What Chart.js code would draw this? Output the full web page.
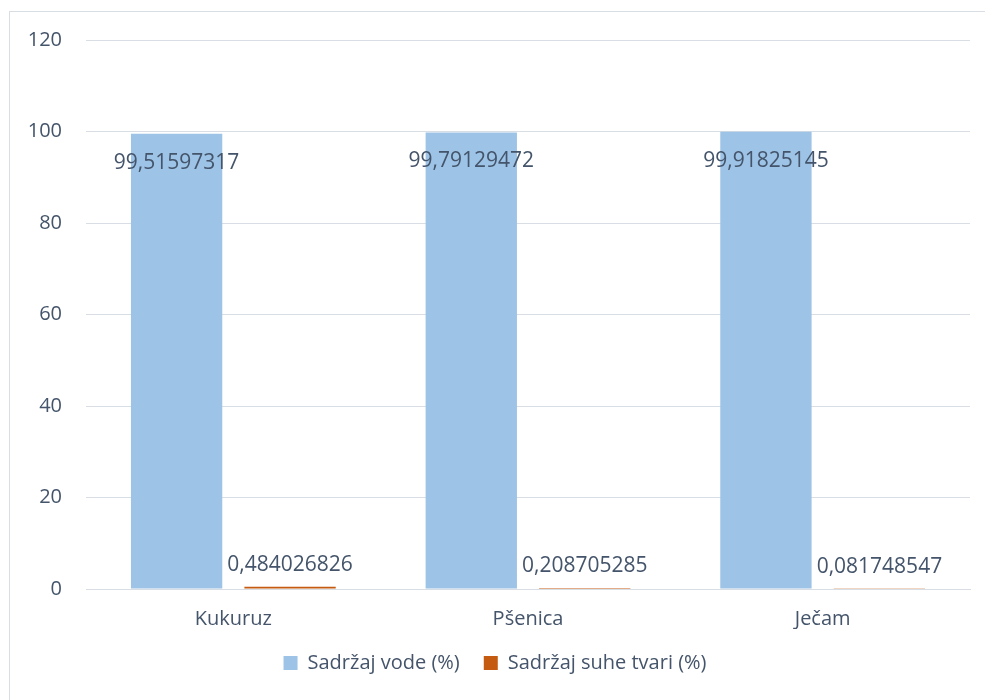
<!DOCTYPE html>
<html>
<head>
<meta charset="utf-8">
<script src="https://cdn.jsdelivr.net/npm/chart.js@4"></script>
<style>
  html, body { margin: 0; padding: 0; background: #fff; }
  #wrap { position: relative; width: 985px; height: 700px; overflow: hidden; }
  #frame { position: absolute; left: 9px; top: 11px; width: 1000px; height: 720px; border: 1px solid #D9DEE5; }
  canvas { position: absolute; left: 0; top: 0; }
</style>
</head>
<body>
<div id="wrap">
  <div id="frame"></div>
  <canvas id="chart" width="985" height="700"></canvas>
</div>
<script>
// categories and series
const categories = ['Kukuruz', 'Pšenica', 'Ječam'];
const waterValues = [99.51597317, 99.79129472, 99.91825145];
const dryValues = [0.484026826, 0.208705285, 0.081748547];
const seriesNames = ['Sadržaj vode (%)', 'Sadržaj suhe tvari (%)'];

const textColor = '#44546A';
const fontFamily = "'Open Sans', 'Liberation Sans', sans-serif";

// simple value labels, comma as decimal separator
const valueLabels = {
  id: 'valueLabels',
  afterDatasetsDraw(chart) {
    const ctx = chart.ctx;
    ctx.save();
    ctx.font = '21px ' + fontFamily;
    ctx.fillStyle = textColor;
    ctx.textAlign = 'center';
    ctx.textBaseline = 'middle';
    chart.data.datasets.forEach((ds, i) => {
      const meta = chart.getDatasetMeta(i);
      meta.data.forEach((bar, j) => {
        const txt = String(ds.data[j]).replace('.', ',');
        const y = i === 0 ? bar.y + 29 : bar.y - 22;
        ctx.fillText(txt, bar.x, y);
      });
    });
    ctx.restore();
  }
};

new Chart(document.getElementById('chart'), {
  type: 'bar',
  data: {
    labels: categories,
    datasets: [
      { label: seriesNames[0], data: waterValues, backgroundColor: '#9DC3E6' },
      { label: seriesNames[1], data: dryValues, backgroundColor: '#C55A11' }
    ]
  },
  options: {
    responsive: false,
    animation: false,
    categoryPercentage: 0.77,
    barPercentage: 0.805,
    layout: { padding: { left: 20, right: 15, top: 40, bottom: 17 } },
    plugins: {
      tooltip: { enabled: false },
      legend: {
        position: 'bottom',
        labels: {
          color: textColor,
          font: { family: fontFamily, size: 20 },
          boxWidth: 14,
          boxHeight: 14,
          padding: 24
        }
      }
    },
    scales: {
      x: {
        grid: { display: false, drawTicks: false },
        border: { color: '#D9DEE5', width: 1 },
        ticks: { color: textColor, font: { family: fontFamily, size: 20 }, padding: 18 },
        afterFit(scale) { scale.height = 40; }
      },
      y: {
        min: 0,
        max: 120,
        ticks: { stepSize: 20, color: textColor, font: { family: fontFamily, size: 20 }, padding: 24 },
        grid: { color: '#D9DEE5', drawTicks: false },
        border: { display: false },
        afterFit(scale) { scale.width = 66; }
      }
    }
  },
  plugins: [valueLabels]
});
</script>
</body>
</html>
